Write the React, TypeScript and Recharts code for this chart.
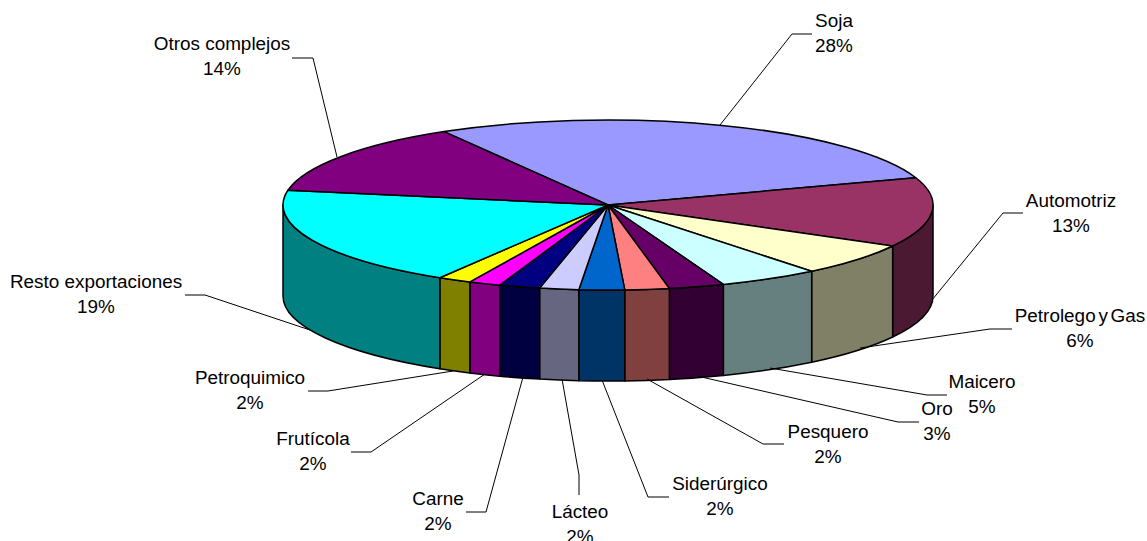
import { PieChart, Pie } from 'recharts';

const SECTORS = ['Soja', 'Automotriz', 'Petrolego y Gas', 'Maicero', 'Oro', 'Pesquero', 'Siderúrgico', 'Lácteo', 'Carne', 'Frutícola', 'Petroquimico', 'Resto exportaciones', 'Otros complejos'];
const SHARES = [28.2, 13.2, 6.2, 5, 2.75, 2.2, 2.25, 1.94, 2.03, 1.58, 1.67, 19.1, 13.8];
const TOP_COLORS = ['#9999FF', '#993366', '#FFFFCC', '#CCFFFF', '#660066', '#FF8080', '#0066CC', '#CCCCFF', '#000080', '#FF00FF', '#FFFF00', '#00FFFF', '#800080'];
const WALL_COLORS = ['#4C1933', '#4C1933', '#808066', '#668080', '#330033', '#804040', '#003366', '#666680', '#000040', '#800080', '#808000', '#008080', '#400040'];

// where each label sits: text centre, first baseline, leader polyline
const LABEL_X = [834, 1071, 1080, 982, 937, 828, 720, 580, 438, 313, 250, 96, 222];
const LABEL_Y = [27, 207, 322, 388, 415, 438, 490, 518, 505, 445, 384, 288, 50];
const LABEL_WORD_GAP = [0, 0, -2.5, 0, 0, 0, 0, 0, 0, 0, 0, 0, 0];
const LEADERS = [
  '720,125 792,34 812,34',
  '932,300 1003,213 1023,213',
  '860,348 990,329 1012,329',
  '770,368 927,395 947,395',
  '697,376 898,422 919,422',
  '647,379 763,444 784,444',
  '602,380 648,497 669,497',
  '562,379 579,475 579,495',
  '523,377 486,512 466,512',
  '485,374 371,452 351,452',
  '453,371 328,391 308,391',
  '310,330 205,295 185,295',
  '337,157 313,58 292,58',
];

const tableData = SECTORS.map((name, i) => ({ name, value: SHARES[i], fill: TOP_COLORS[i] }));

const SQUASH = 85 / 325; // ellipse ratio of the tilted top
const DEPTH = 91; // wall height

// Recharts hands over the angles, we only tilt them into a 3D looking disc
const Slice3D = (props: any) => {
  const { cx, cy, outerRadius: r, startAngle, endAngle, fill, index } = props;
  const ry = r * SQUASH;
  const px = (a: number) => cx + r * Math.cos((a * Math.PI) / 180);
  const py = (a: number) => cy - ry * Math.sin((a * Math.PI) / 180);
  const large = Math.abs(startAngle - endAngle) > 180 ? 1 : 0;
  const top = `M${cx},${cy} L${px(startAngle)},${py(startAngle)} A${r},${ry} 0 ${large} 1 ${px(endAngle)},${py(endAngle)} Z`;

  // only the front half of the rim shows a wall
  const a1 = Math.min(startAngle, 0);
  const a2 = Math.max(endAngle, -180);
  const hasWall = a1 > a2;
  const wall = `M${px(a1)},${py(a1)} A${r},${ry} 0 0 1 ${px(a2)},${py(a2)} L${px(a2)},${py(a2) + DEPTH} A${r},${ry} 0 0 0 ${px(a1)},${py(a1) + DEPTH} Z`;

  return (
    <g>
      {hasWall && <path d={wall} fill={WALL_COLORS[index]} stroke="#000" strokeWidth={1.5} strokeLinejoin="round" />}
      <path d={top} fill={fill} stroke="#000" strokeWidth={1.5} strokeLinejoin="round" />
    </g>
  );
};

const renderLabel = (props: any) => {
  const { index, name, value } = props;
  return (
    <g key={name}>
      <polyline points={LEADERS[index]} fill="none" stroke="#000" strokeWidth={1} />
      <text x={LABEL_X[index]} y={LABEL_Y[index]} textAnchor="middle" wordSpacing={LABEL_WORD_GAP[index]} fontFamily="'Liberation Sans', Arial, sans-serif" fontSize={18.9} fill="#000">
        {name}
      </text>
      <text x={LABEL_X[index]} y={LABEL_Y[index] + 25} textAnchor="middle" fontFamily="'Liberation Sans', Arial, sans-serif" fontSize={18.9} fill="#000">
        {Math.round(value)}%
      </text>
    </g>
  );
};

export default function App() {
  return (
    <div style={{ position: 'absolute', left: 0, top: 0, width: 1147, height: 541, background: '#fff' }}>
      <PieChart width={1147} height={541} margin={{ top: 0, right: 0, bottom: 0, left: 0 }}>
        <Pie
          data={tableData}
          dataKey="value"
          nameKey="name"
          cx={608}
          cy={205}
          innerRadius={0}
          outerRadius={325}
          startAngle={120.3}
          endAngle={-239.7}
          shape={Slice3D}
          label={renderLabel}
          labelLine={false}
          isAnimationActive={false}
        />
      </PieChart>
    </div>
  );
}
